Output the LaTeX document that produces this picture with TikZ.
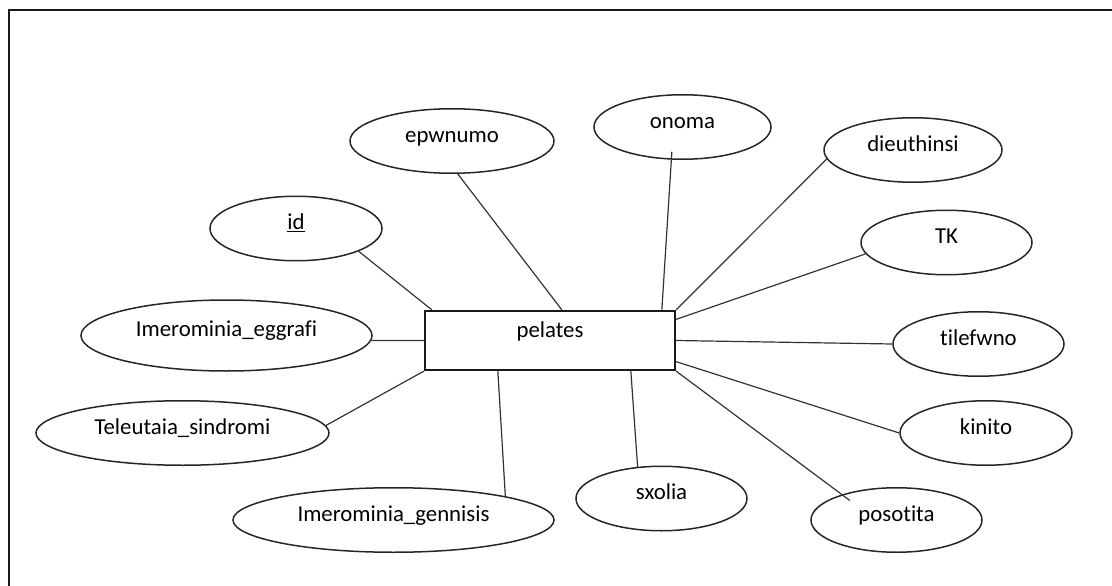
\documentclass[tikz,border=0pt]{standalone}
\usepackage{fontspec}
\setmainfont{Carlito}[Ligatures=NoCommon]
\usetikzlibrary{shapes.geometric,calc}
\begin{document}
\begin{tikzpicture}[x=1pt,y=-1pt,
  every node/.style={font=\fontsize{22.8}{27}\selectfont},
  attr/.style={ellipse, draw=black!85, line width=1.5pt, inner sep=0pt,
    minimum height=64.5pt, text height=15pt, text depth=12.4pt},
  entity/.style={rectangle, draw=black!90, line width=1.8pt, inner sep=0pt,
    minimum width=250.5pt, minimum height=59.5pt, text height=12pt, text depth=18.4pt},
  link/.style={draw=black!80, line width=1.2pt},
  frame/.style={draw=black!90, line width=2pt}]
  \useasboundingbox (0,0) rectangle (1112,586);

  % page frame (right and bottom edges lie off the page)
  \draw[frame] (9,620) -- (9,10.5) -- (1140,10.5);

  % entity
  \node[entity] (ent) at (550,340.5) {pelates};

  % attributes
  \node[attr, minimum width=172pt] (id) at (296,228.5) {\underline{id}};
  \node[attr, minimum width=204pt] (epwnumo) at (452,141) {epwnumo};
  \node[attr, minimum width=177pt] (onoma) at (682.5,127) {onoma};
  \node[attr, minimum width=178pt] (dieuthinsi) at (913,150) {dieuthinsi};
  \node[attr, minimum width=171pt] (tk) at (946.5,242.5) {TK};
  \node[attr, minimum width=171pt] (tilefwno) at (978.5,344) {tilefwno};
  \node[attr, minimum width=172pt] (kinito) at (986,433) {kinito};
  \node[attr, minimum width=171pt] (posotita) at (896.5,520) {posotita};
  \node[attr, minimum width=171pt] (sxolia) at (661.5,498.5) {sxolia};
  \node[attr, minimum width=321pt] (gennisis) at (393.5,520) {Imerominia\_gennisis};
  \node[attr, minimum width=293pt] (sindromi) at (182.5,433) {Teleutaia\_sindromi};
  \node[attr, minimum width=291pt, minimum height=71pt] (eggrafi) at (226.5,335.5) {Imerominia\_eggrafi};

  % connectors
  \draw[link] ([xshift=8pt]ent.north west) -- (id.340);
  \draw[link] ([xshift=138pt]ent.north west) -- (epwnumo.280);
  \draw[link] ([xshift=238pt]ent.north west) -- ([yshift=8pt]onoma.252);
  \draw[link] (ent.north east) -- (dieuthinsi.186);
  \draw[link] ([yshift=-9.5pt]ent.north east) -- (tk.188);
  \draw[link] (ent.east) -- (tilefwno.180);
  \draw[link] ([yshift=9.5pt]ent.south east) -- (kinito.180);
  \draw[link, shorten >=-10pt] (ent.south east) -- (posotita.155);
  \draw[link] ([xshift=207pt]ent.south west) -- (sxolia.127);
  \draw[link] ([xshift=74pt]ent.south west) -- (gennisis.12);
  \draw[link] (ent.south west) -- (sindromi.3);
  \draw[link] (ent.west) -- (eggrafi.358);
\end{tikzpicture}
\end{document}
